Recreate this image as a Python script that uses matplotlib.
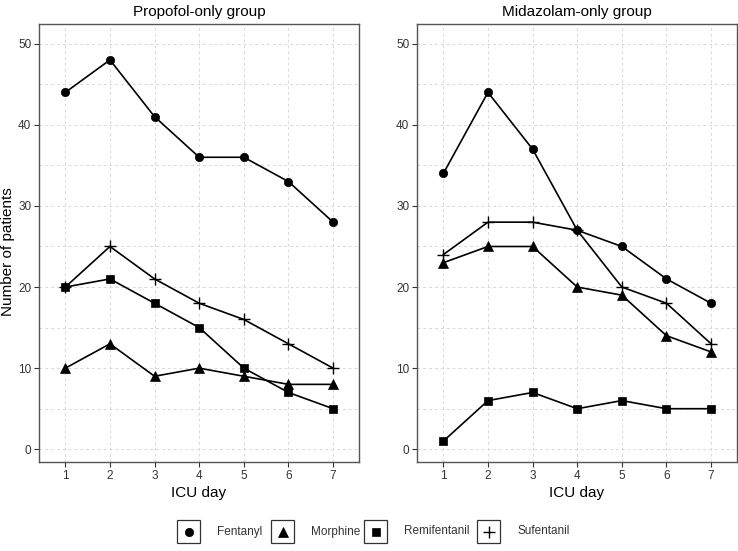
import numpy as np
import matplotlib
matplotlib.use("Agg")
import matplotlib.pyplot as plt
from matplotlib.patches import Rectangle
from matplotlib.lines import Line2D

plt.rcParams["font.family"] = ["Liberation Sans", "DejaVu Sans"]

# ── Data ────────────────────────────────────────────────────────────────────
days = [1, 2, 3, 4, 5, 6, 7]
drugs = ["Fentanyl", "Morphine", "Remifentanil", "Sufentanil"]
panel_titles = ["Propofol-only group", "Midazolam-only group"]

propofol_fentanyl     = [44, 48, 41, 36, 36, 33, 28]
propofol_morphine     = [10, 13, 9, 10, 9, 8, 8]
propofol_remifentanil = [20, 21, 18, 15, 10, 7, 5]
propofol_sufentanil   = [20, 25, 21, 18, 16, 13, 10]

midazolam_fentanyl     = [34, 44, 37, 27, 25, 21, 18]
midazolam_morphine     = [23, 25, 25, 20, 19, 14, 12]
midazolam_remifentanil = [1, 6, 7, 5, 6, 5, 5]
midazolam_sufentanil   = [24, 28, 28, 27, 20, 18, 13]

panels = [
    [propofol_fentanyl, propofol_morphine, propofol_remifentanil, propofol_sufentanil],
    [midazolam_fentanyl, midazolam_morphine, midazolam_remifentanil, midazolam_sufentanil],
]

# marker style per drug
MARKERS = {"Fentanyl": ("o", 6.0), "Morphine": ("^", 7.0),
           "Remifentanil": ("s", 5.6), "Sufentanil": ("+", 9)}

TXT = "#333333"
W, H = 738, 551
fig = plt.figure(figsize=(W / 100, H / 100), dpi=100)


def px_box(x0, y0, x1, y1):
    return [x0 / W, 1 - y1 / H, (x1 - x0) / W, (y1 - y0) / H]


boxes = [px_box(39, 24, 359, 462), px_box(417, 24, 737, 462)]

for i, (box, title, series) in enumerate(zip(boxes, panel_titles, panels)):
    ax = fig.add_axes(box)
    for drug, vals in zip(drugs, series):
        m, ms = MARKERS[drug]
        ax.plot(days, vals, color="black", lw=1.2, marker=m, ms=ms,
                mew=1.0 if m == "+" else 0.5, mec="black", mfc="black", zorder=3)
    ax.set_xlim(0.41, 7.58)
    ax.set_ylim(-1.57, 52.43)
    ax.set_xticks(days)
    ax.set_yticks(range(0, 51, 10))
    ax.set_yticks(range(5, 51, 10), minor=True)
    ax.grid(which="both", color="#d9d9d9", ls=(0, (3, 3)), lw=0.7, zorder=0)
    ax.tick_params(which="major", length=3.5, width=0.8, color="#333333",
                   labelsize=8.5, labelcolor=TXT, pad=2)
    ax.tick_params(which="minor", length=0)
    for sp in ax.spines.values():
        sp.set_color("#555555")
        sp.set_linewidth(1.0)
    ax.set_title(title, fontsize=11, color="black", pad=6)
    ax.set_xlabel("ICU day", fontsize=11, labelpad=3)

fig.text(8 / W, 1 - 252 / H, "Number of patients", fontsize=11, rotation=90,
         ha="center", va="center")

# ── Legend (bottom, keys in boxes) ──────────────────────────────────────────
leg = fig.add_axes([0, 0, 1, 1], facecolor="none")
leg.set_xlim(0, W)
leg.set_ylim(H, 0)
leg.axis("off")
key_x = [177, 271, 364, 477]
for kx, drug in zip(key_x, drugs):
    leg.add_patch(Rectangle((kx, 520), 23, 23, fill=False, ec="#333333", lw=0.9))
    m, ms = MARKERS[drug]
    leg.add_line(Line2D([kx + 11.5], [531.5], marker=m, ms=ms, color="black",
                        mew=1.0 if m == "+" else 0.5, ls="none"))
    leg.text(kx + 40, 531.5, drug, fontsize=8.5, color=TXT, va="center", ha="left")

fig.savefig("out.png", dpi=100)
